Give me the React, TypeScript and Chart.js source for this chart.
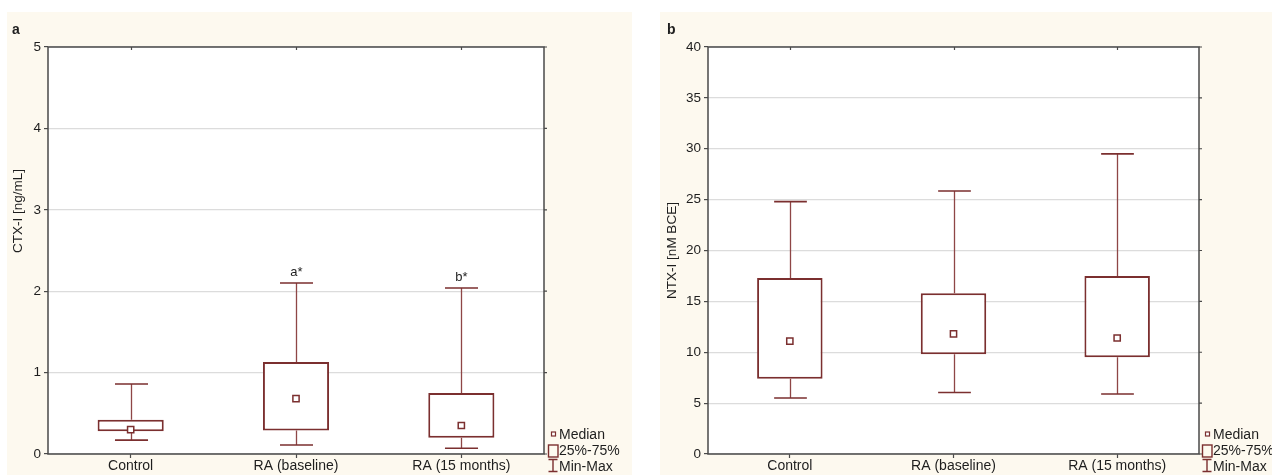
import React, { useEffect, useRef } from "react";
import { Chart, registerables } from "chart.js";

Chart.register(...registerables);

// ---------- data ----------
const categories = ["Control", "RA (baseline)", "RA (15 months)"];

// panel a: CTX-I [ng/mL]
const ctxMin = [0.17, 0.11, 0.07];
const ctxQ1 = [0.28, 0.29, 0.2];
const ctxMedian = [0.3, 0.68, 0.35];
const ctxQ3 = [0.42, 1.13, 0.75];
const ctxMax = [0.86, 2.1, 2.04];
const ctxMarks = ["", "a*", "b*"];
const ctxAxis = [0, 5, 1]; // min, max, step

// panel b: NTX-I [nM BCE]
const ntxMin = [5.5, 6.05, 5.9];
const ntxQ1 = [7.4, 9.8, 9.5];
const ntxMedian = [11.1, 11.8, 11.4];
const ntxQ3 = [17.3, 15.8, 17.5];
const ntxMax = [24.8, 25.85, 29.5];
const ntxMarks = ["", "", ""];
const ntxAxis = [0, 40, 5];

const legendLabels = ["Median", "25%-75%", "Min-Max"];

// ---------- styles ----------
const BOX = "#7b2f2f";
const WHISKER = "#8e4646";
const TEXT = "#1e1e1e";
const FRAME = "#4a4a4a";
const CREAM = "#fdf9ef";
const FONT = "'Liberation Sans', Arial, sans-serif";

type PanelProps = {
  letter: string;
  yTitle: string;
  min: number[];
  q1: number[];
  med: number[];
  q3: number[];
  max: number[];
  marks: string[];
  axis: number[];
  width: number;
  height: number;
  axisW: number;
  padRight: number;
  titleDX: number;
  titleFrac: number;
  legendDX: number;
};

function makePlugin(p: PanelProps) {
  return {
    id: "boxExtras" + p.letter,
    beforeDraw(chart: any) {
      const { ctx, chartArea: a } = chart;
      ctx.save();
      ctx.fillStyle = "#ffffff";
      ctx.fillRect(a.left, a.top, a.right - a.left, a.bottom - a.top);
      ctx.restore();
    },
    beforeDatasetsDraw(chart: any) {
      const ctx = chart.ctx;
      const xs = chart.scales.x;
      const ys = chart.scales.y;
      const meta = chart.getDatasetMeta(0);
      ctx.save();
      p.min.forEach((mn, i) => {
        const cx = Math.round(xs.getPixelForValue(i)) + 0.5;
        const bw = meta.data[i].width;
        const cap = bw / 4;
        const yMin = ys.getPixelForValue(mn);
        const yQ1 = ys.getPixelForValue(p.q1[i]);
        const yQ3 = ys.getPixelForValue(p.q3[i]);
        const yMax = ys.getPixelForValue(p.max[i]);
        ctx.strokeStyle = WHISKER;
        ctx.lineWidth = 1.3;
        ctx.beginPath();
        ctx.moveTo(cx, yMin);
        ctx.lineTo(cx, yQ1);
        ctx.moveTo(cx, yQ3);
        ctx.lineTo(cx, yMax);
        ctx.stroke();
        ctx.strokeStyle = BOX;
        ctx.lineWidth = 1.6;
        ctx.beginPath();
        ctx.moveTo(cx - cap, yMin);
        ctx.lineTo(cx + cap, yMin);
        ctx.moveTo(cx - cap, yMax);
        ctx.lineTo(cx + cap, yMax);
        ctx.stroke();
        if (p.marks[i]) {
          ctx.fillStyle = TEXT;
          ctx.font = `13px ${FONT}`;
          ctx.textAlign = "center";
          ctx.textBaseline = "bottom";
          ctx.fillText(p.marks[i], cx, yMax - 4);
        }
      });
      ctx.restore();
    },
    afterDraw(chart: any) {
      const { ctx, chartArea: a } = chart;
      const xs = chart.scales.x;
      const ys = chart.scales.y;
      ctx.save();
      // frame
      ctx.strokeStyle = FRAME;
      ctx.lineWidth = 1.5;
      ctx.strokeRect(a.left, a.top, a.right - a.left, a.bottom - a.top);
      // small ticks on top and right edges
      ctx.lineWidth = 1.2;
      ctx.beginPath();
      categories.forEach((_, i) => {
        const cx = Math.round(xs.getPixelForValue(i)) + 0.5;
        ctx.moveTo(cx, a.top);
        ctx.lineTo(cx, a.top + 3);
      });
      ys.ticks.forEach((t: any) => {
        const yy = ys.getPixelForValue(t.value);
        ctx.moveTo(a.right, yy);
        ctx.lineTo(a.right + 3, yy);
      });
      ctx.stroke();

      // y-axis title
      ctx.fillStyle = TEXT;
      ctx.font = `13.5px ${FONT}`;
      ctx.textAlign = "center";
      ctx.textBaseline = "middle";
      ctx.save();
      ctx.translate(a.left + p.titleDX, a.top + (a.bottom - a.top) * p.titleFrac);
      ctx.rotate(-Math.PI / 2);
      ctx.fillText(p.yTitle, 0, 0);
      ctx.restore();

      // panel letter
      ctx.font = `bold 14px ${FONT}`;
      ctx.textAlign = "left";
      ctx.textBaseline = "alphabetic";
      ctx.fillText(p.letter, p.letter === "a" ? 5 : 7, 22);

      // legend
      const lx = a.right + p.legendDX;
      const b = a.bottom;
      ctx.strokeStyle = BOX;
      ctx.fillStyle = "#ffffff";
      ctx.lineWidth = 1.2;
      ctx.fillRect(lx + 3.5, b - 22, 4, 4);
      ctx.strokeRect(lx + 3.5, b - 22, 4, 4);
      ctx.lineWidth = 1.4;
      ctx.strokeRect(lx + 0.5, b - 9, 9.5, 12);
      ctx.beginPath();
      ctx.moveTo(lx + 0.5, b + 5.5);
      ctx.lineTo(lx + 9.5, b + 5.5);
      ctx.moveTo(lx + 5, b + 5.5);
      ctx.lineTo(lx + 5, b + 17.5);
      ctx.moveTo(lx + 0.5, b + 17.5);
      ctx.lineTo(lx + 9.5, b + 17.5);
      ctx.stroke();
      ctx.fillStyle = TEXT;
      ctx.font = `14px ${FONT}`;
      ctx.textAlign = "left";
      ctx.textBaseline = "middle";
      const ty = [b - 19, b - 3, b + 13];
      legendLabels.forEach((l, i) => ctx.fillText(l, lx + 11, ty[i]));
      ctx.restore();
    },
  };
}

function BoxPanel(p: PanelProps) {
  const ref = useRef<HTMLCanvasElement | null>(null);
  useEffect(() => {
    if (!ref.current) return;
    const chart = new Chart(ref.current, {
      type: "bar",
      data: {
        labels: categories,
        datasets: [
          {
            type: "bar",
            data: categories.map((_, i) => [p.q1[i], p.q3[i]]) as any,
            backgroundColor: "#ffffff",
            borderColor: BOX,
            borderWidth: 2,
            borderSkipped: false,
            categoryPercentage: 1,
            barPercentage: 0.4,
            order: 2,
          } as any,
          {
            type: "line",
            data: p.med,
            showLine: false,
            pointStyle: "rect",
            pointRadius: 4.4,
            pointBorderWidth: 1.5,
            pointBackgroundColor: "#ffffff",
            pointBorderColor: BOX,
            order: 1,
          } as any,
        ],
      },
      options: {
        responsive: false,
        maintainAspectRatio: false,
        animation: false,
        events: [],
        layout: { padding: { top: 35, right: p.padRight, left: 0, bottom: 0 } },
        plugins: { legend: { display: false }, tooltip: { enabled: false } },
        scales: {
          x: {
            type: "category",
            offset: true,
            grid: {
              display: true,
              drawOnChartArea: false,
              offset: false,
              tickLength: 4,
              tickColor: FRAME,
              tickWidth: 1.2,
            },
            border: { display: false },
            ticks: {
              color: TEXT,
              font: { family: FONT, size: 14 },
              padding: 0,
              maxRotation: 0,
              autoSkip: false,
            },
            afterFit: (s: any) => {
              s.height = 21;
            },
          },
          y: {
            min: p.axis[0],
            max: p.axis[1],
            ticks: {
              stepSize: p.axis[2],
              color: TEXT,
              font: { family: FONT, size: 13.5 },
              padding: 3,
            },
            grid: {
              color: "#dcdcdc",
              lineWidth: 1.2,
              tickLength: 4,
              tickColor: FRAME,
              tickWidth: 1.2,
            },
            border: { display: false },
            afterFit: (s: any) => {
              s.width = p.axisW;
            },
          },
        },
      } as any,
      plugins: [makePlugin(p) as any],
    });
    return () => chart.destroy();
  }, []);
  return (
    <canvas
      ref={ref}
      width={p.width}
      height={p.height}
      style={{ display: "block", width: p.width, height: p.height }}
    />
  );
}

export default function App() {
  return (
    <div
      style={{
        position: "fixed",
        left: 0,
        top: 0,
        width: 1272,
        height: 475,
        background: "#ffffff",
        overflow: "hidden",
      }}
    >
      <div style={{ position: "absolute", left: 7, top: 12, width: 625, height: 463, background: CREAM }}>
        <BoxPanel
          letter="a"
          yTitle="CTX-I [ng/mL]"
          min={ctxMin}
          q1={ctxQ1}
          med={ctxMedian}
          q3={ctxQ3}
          max={ctxMax}
          marks={ctxMarks}
          axis={ctxAxis}
          width={625}
          height={463}
          axisW={41}
          padRight={88}
          titleDX={-30}
          titleFrac={0.403}
          legendDX={4}
        />
      </div>
      <div style={{ position: "absolute", left: 660, top: 12, width: 612, height: 463, background: CREAM }}>
        <BoxPanel
          letter="b"
          yTitle="NTX-I [nM BCE]"
          min={ntxMin}
          q1={ntxQ1}
          med={ntxMedian}
          q3={ntxQ3}
          max={ntxMax}
          marks={ntxMarks}
          axis={ntxAxis}
          width={612}
          height={463}
          axisW={48}
          padRight={73}
          titleDX={-36}
          titleFrac={0.5}
          legendDX={3}
        />
      </div>
    </div>
  );
}
